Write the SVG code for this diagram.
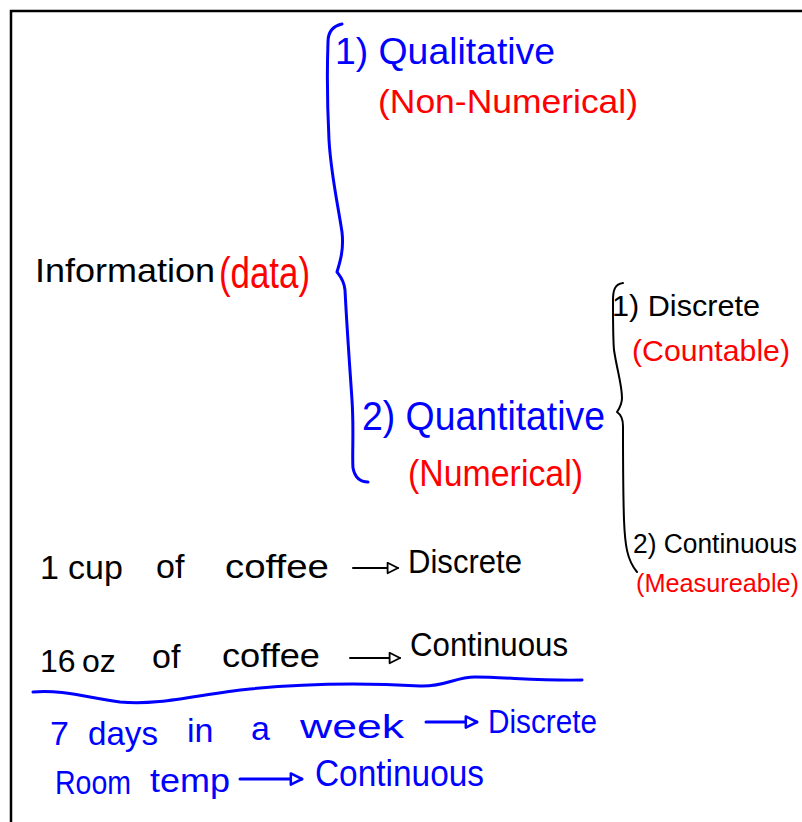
<svg xmlns="http://www.w3.org/2000/svg" width="802" height="822" viewBox="0 0 802 822">
<style>
text{font-family:"Liberation Sans","DejaVu Sans",sans-serif;}
.k{fill:#000}
.b{fill:#0000ff}
.r{fill:#ff0000}
.pb{fill:none;stroke:#0000ff;stroke-width:3;stroke-linecap:round;stroke-linejoin:round}
.pk{fill:none;stroke:#000;stroke-width:2;stroke-linecap:round;stroke-linejoin:round}
</style>
<defs>
<marker id="ak" viewBox="0 0 10 10" refX="9" refY="5" markerWidth="13" markerHeight="13" markerUnits="userSpaceOnUse" orient="auto">
<path d="M1,1 L9,5 L1,9 Z" fill="#fff" stroke="#000" stroke-width="1.4" stroke-linejoin="round"/>
</marker>
<marker id="ab" viewBox="0 0 10 10" refX="9" refY="5" markerWidth="14" markerHeight="14" markerUnits="userSpaceOnUse" orient="auto">
<path d="M1,1 L9,5 L1,9 Z" fill="#fff" stroke="#0000ff" stroke-width="1.8" stroke-linejoin="round"/>
</marker>
</defs>
<rect width="802" height="822" fill="#fff"/>
<path d="M11,822 V11 H802" fill="none" stroke="#000" stroke-width="2.5"/>

<g id="information">
<text class="k" x="35" y="282" font-size="34" textLength="180" lengthAdjust="spacingAndGlyphs">Information</text>
<text class="r" x="219" y="288" font-size="44" textLength="91" lengthAdjust="spacingAndGlyphs">(data)</text>
</g>

<g id="qualitative">
<text class="b" x="335" y="64" font-size="36" textLength="220" lengthAdjust="spacingAndGlyphs">1) Qualitative</text>
<text class="r" x="378" y="113" font-size="34" textLength="260" lengthAdjust="spacingAndGlyphs">(Non-Numerical)</text>
</g>

<g id="quantitative">
<text class="b" x="362" y="430" font-size="40" textLength="243" lengthAdjust="spacingAndGlyphs">2) Quantitative</text>
<text class="r" x="408" y="486" font-size="37" textLength="175" lengthAdjust="spacingAndGlyphs">(Numerical)</text>
</g>

<g id="discrete">
<text class="k" x="612" y="316" font-size="30" textLength="148" lengthAdjust="spacingAndGlyphs">1) Discrete</text>
<text class="r" x="632" y="361" font-size="30" textLength="158" lengthAdjust="spacingAndGlyphs">(Countable)</text>
</g>

<g id="continuous">
<text class="k" x="633" y="553" font-size="27" textLength="164" lengthAdjust="spacingAndGlyphs">2) Continuous</text>
<text class="r" x="636" y="592" font-size="25.5" textLength="163" lengthAdjust="spacingAndGlyphs">(Measureable)</text>
</g>

<g id="example-cup">
<text class="k" x="40" y="579" font-size="34">1</text>
<text class="k" x="68" y="579" font-size="34">cup</text>
<text class="k" x="156" y="578" font-size="34">of</text>
<text class="k" x="225" y="578" font-size="34" textLength="104" lengthAdjust="spacingAndGlyphs">coffee</text>
<text class="k" x="408" y="573" font-size="34" textLength="114" lengthAdjust="spacingAndGlyphs">Discrete</text>
</g>

<g id="example-oz">
<text class="k" x="40" y="672" font-size="32">16</text>
<text class="k" x="82" y="672" font-size="32">oz</text>
<text class="k" x="152" y="668" font-size="34">of</text>
<text class="k" x="222" y="667" font-size="34" textLength="98" lengthAdjust="spacingAndGlyphs">coffee</text>
<text class="k" x="410" y="656" font-size="34" textLength="158" lengthAdjust="spacingAndGlyphs">Continuous</text>
</g>

<g id="example-days">
<text class="b" x="50" y="745" font-size="34">7</text>
<text class="b" x="88" y="745" font-size="34" textLength="70" lengthAdjust="spacingAndGlyphs">days</text>
<text class="b" x="187" y="742" font-size="34">in</text>
<text class="b" x="251" y="740" font-size="34">a</text>
<text class="b" x="300" y="738" font-size="34" textLength="104" lengthAdjust="spacingAndGlyphs">week</text>
<text class="b" x="488" y="733" font-size="34" textLength="109" lengthAdjust="spacingAndGlyphs">Discrete</text>
</g>

<g id="example-temp">
<text class="b" x="55" y="794" font-size="34" textLength="76" lengthAdjust="spacingAndGlyphs">Room</text>
<text class="b" x="150" y="792" font-size="34" textLength="80" lengthAdjust="spacingAndGlyphs">temp</text>
<text class="b" x="315" y="786" font-size="36" textLength="169" lengthAdjust="spacingAndGlyphs">Continuous</text>
</g>

<g id="connectors">
<path class="pb" d="M342,24 C333,26 328,32 328,42 C327,70 327,100 329,140 C331,175 338,205 342,232 C344,250 340,262 337,272 C340,276 344,280 345,290 C347,330 350,370 352,400 C354,430 352,455 353,468 C355,478 360,482 368,482"/>
<path class="pk" d="M623,283 C615,284 613,290 613,300 C613,320 613,340 614,350 C617,370 622,385 622,398 C622,404 619,409 617,412 C620,414 623,418 623,426 C623,450 623,490 624,520 C625,545 627,560 637,572"/>
<path class="pb" d="M33,692 C60,689 90,698 120,702 C160,706 200,694 250,689 C300,684 350,682 420,686 C445,687 455,677 475,677 C505,677 540,681 582,680" stroke-width="2.2"/>
<line class="pk" x1="353" y1="568" x2="398" y2="568" marker-end="url(#ak)"/>
<line class="pk" x1="350" y1="658" x2="400" y2="658" marker-end="url(#ak)"/>
<line class="pb" x1="426" y1="722" x2="477" y2="722" marker-end="url(#ab)"/>
<line class="pb" x1="240" y1="779" x2="302" y2="779" marker-end="url(#ab)"/>
</g>
</svg>
